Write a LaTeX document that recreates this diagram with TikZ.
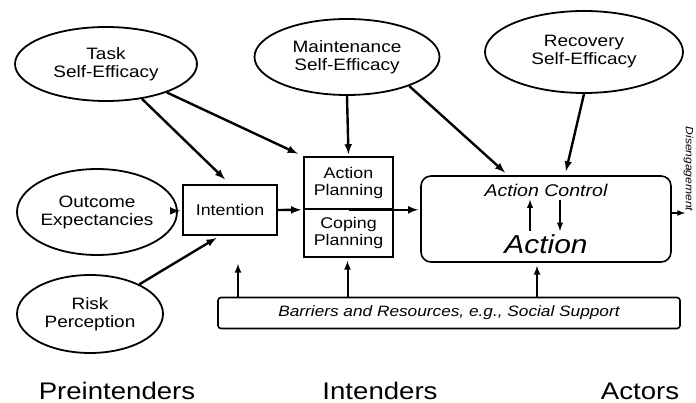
\documentclass[tikz,border=0pt]{standalone}
\usepackage{fontspec}
\setmainfont[FakeStretch=1.15]{Liberation Sans}
\usetikzlibrary{arrows,calc,shapes.geometric}

\tikzset{
  belief/.style={ellipse, draw, line width=1.8pt, inner sep=0pt, align=center,
    font=\fontsize{16.5}{18}\selectfont},
  stagebox/.style={rectangle, draw, line width=1.6pt, inner sep=0pt, align=center,
    font=\fontsize{15.5}{17}\selectfont},
  arr/.style={-latex, line width=2.4pt, shorten >=2pt},
  lift/.style={-latex, line width=2pt},
  group/.style={anchor=base, font=\fontsize{24}{26}\selectfont}
}

\begin{document}
\begin{tikzpicture}[x=1pt,y=-1pt]
\useasboundingbox[fill=white] (0,0) rectangle (696,403);

% self-efficacy and expectancies
\node[belief, minimum width=182pt, minimum height=74pt] (task) at (106,64) {Task\\Self-Efficacy};
\node[belief, minimum width=185pt, minimum height=76pt] (maint) at (347,57) {Maintenance\\Self-Efficacy};
\node[belief, minimum width=198pt, minimum height=82pt] (recov) at (584,52) {Recovery\\Self-Efficacy};
\node[belief, minimum width=160pt, minimum height=86pt] (outcome) at (97,212) {Outcome\\Expectancies};
\node[belief, minimum width=146pt, minimum height=78pt] (risk) at (90,314) {Risk\\Perception};

% intention and planning
\node[stagebox, minimum width=94pt, minimum height=50pt] (intent) at (230,210) {Intention};
\node[stagebox, minimum width=89pt, minimum height=52pt] (aplan) at (348.5,183) {Action\\Planning};
\node[stagebox, minimum width=89pt, minimum height=48pt] (cplan) at (348.5,233) {Coping\\Planning};

% action control
\node[draw, rounded corners=10pt, line width=1.6pt, minimum width=250pt, minimum height=86pt] (ctrl) at (546,219) {};
\node[font=\fontsize{17}{19}\selectfont\itshape] (ctrltxt) at (546,190) {Action Control};
\node[font=\fontsize{26}{28}\selectfont\itshape] (act) at (546,244) {Action};
\draw[-latex, line width=1.8pt] ([xshift=-16pt]act.north) -- ([xshift=-16pt]ctrltxt.south);
\draw[-latex, line width=1.8pt] ([xshift=14pt]ctrltxt.south) -- ([xshift=14pt]act.north);

\node[draw, rounded corners=3pt, line width=1.6pt, minimum width=462pt, minimum height=31pt,
  font=\fontsize{15}{17}\selectfont\itshape] (barr) at (449,313) {Barriers and Resources, e.g., Social Support};

\node[rotate=-90, inner sep=1pt, font=\fontsize{10.5}{12}\selectfont\itshape] (dis) at (688.5,169) {Disengagement};
\coordinate (dispt) at (685,213);

% foot points of the support arrows
\coordinate (l1) at ($(intent.south)+(8,0)$);
\coordinate (l2) at ($(cplan.south)+(-1,0)$);
\coordinate (l3) at ($(ctrl.south)+(-9,0)$);

% connectors
\draw[arr, shorten >=7pt] (task) -- (intent.north);
\draw[arr, shorten >=6pt] (task) -- (aplan.north west);
\draw[arr] (maint.south) -- (aplan.north);
\draw[arr, shorten >=4pt] (maint.-25) -- ($(ctrl.north)+(-38,0)$);
\draw[arr, shorten >=4pt] (recov.south) -- ($(ctrl.north)+(19,0)$);
\draw[arr] (outcome) -- (intent);
\draw[arr] (intent.east) -- (aplan.south west);
\draw[arr] (aplan.south) -- (aplan.south -| ctrl.west);
\draw[arr, shorten >=4pt] (risk) -- ($(intent.south)+(-10,0)$);
\draw[-latex, line width=1.6pt] (ctrl.east |- dispt) -- (dispt);

\draw[lift, shorten >=28pt] (l1 |- barr.north) -- (l1);
\draw[lift, shorten >=3pt] (l2 |- barr.north) -- (l2);
\draw[lift, shorten >=3pt] (l3 |- barr.north) -- (l3);

% stages
\node[group] (pre) at (117,399) {Preintenders};
\node[group] (int) at (380,399) {Intenders};
\node[group] (actors) at (640,399) {Actors};
\end{tikzpicture}
\end{document}
